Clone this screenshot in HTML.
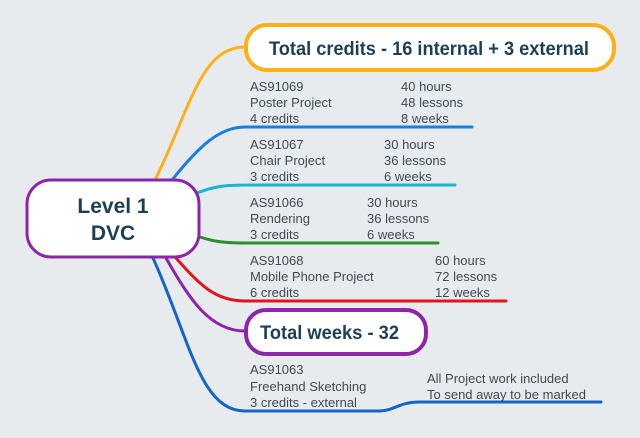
<!DOCTYPE html>
<html><head><meta charset="utf-8"><style>
html,body{margin:0;padding:0;background:#e8ebee;}
svg{display:block}
text{font-family:"Liberation Sans",sans-serif;}
.t{font-size:13px;fill:#3e4a55;}
.b{font-weight:bold;fill:#1c3f55;}
</style></head><body>
<svg width="640" height="438" viewBox="0 0 640 438">
<rect width="640" height="438" fill="#e8ebee"/>
<g fill="none" stroke-linecap="round" stroke-width="3">
<path d="M155,180 C190,110 200,47 245,47" stroke="#fbb117"/>
<path d="M172,180 C200,145 220,127 245,127 L472,127" stroke="#1e7fd8"/>
<path d="M197,193 C215,186 225,185 250,185 L455,185" stroke="#1ab5d3"/>
<path d="M200,237 C215,242 225,243 250,243 L438,243" stroke="#2b8f2b"/>
<path d="M176,258 C200,285 215,301 245,301 L506,301" stroke="#e0161b"/>
<path d="M166,258 C190,300 210,331 245,331" stroke="#8e24aa"/>
<path d="M153,258 C190,340 200,411 245,411 L378,411 C395,411 398,402 420,402 L601,402" stroke="#1565c8"/>
</g>
<rect x="27" y="180" width="172" height="77" rx="24" fill="#fff" stroke="#8e24aa" stroke-width="3"/>
<text x="113" y="213" text-anchor="middle" class="b" font-size="21">Level 1</text>
<text x="113" y="240" text-anchor="middle" class="b" font-size="21">DVC</text>
<rect x="246" y="25" width="368" height="45" rx="21" fill="#fff" stroke="#fbb117" stroke-width="4"/>
<text x="269" y="55" class="b" font-size="19" textLength="320" lengthAdjust="spacingAndGlyphs">Total credits - 16 internal + 3 external</text>
<rect x="246" y="310" width="180" height="44" rx="20" fill="#fff" stroke="#8e24aa" stroke-width="4"/>
<text x="260" y="339" class="b" font-size="19" textLength="139" lengthAdjust="spacingAndGlyphs">Total weeks - 32</text>
<g class="t">
<text x="250" y="91">AS91069</text><text x="250" y="107">Poster Project</text><text x="250" y="123">4 credits</text>
<text x="401" y="91">40 hours</text><text x="401" y="107">48 lessons</text><text x="401" y="123">8 weeks</text>
<text x="250" y="149">AS91067</text><text x="250" y="165">Chair Project</text><text x="250" y="181">3 credits</text>
<text x="384" y="149">30 hours</text><text x="384" y="165">36 lessons</text><text x="384" y="181">6 weeks</text>
<text x="250" y="207">AS91066</text><text x="250" y="223">Rendering</text><text x="250" y="239">3 credits</text>
<text x="367" y="207">30 hours</text><text x="367" y="223">36 lessons</text><text x="367" y="239">6 weeks</text>
<text x="250" y="265">AS91068</text><text x="250" y="281">Mobile Phone Project</text><text x="250" y="297">6 credits</text>
<text x="435" y="265">60 hours</text><text x="435" y="281">72 lessons</text><text x="435" y="297">12 weeks</text>
<text x="250" y="374">AS91063</text><text x="250" y="391">Freehand Sketching</text><text x="250" y="407">3 credits - external</text>
<text x="427" y="383">All Project work included</text><text x="427" y="399">To send away to be marked</text>
</g>
</svg>
</body></html>
